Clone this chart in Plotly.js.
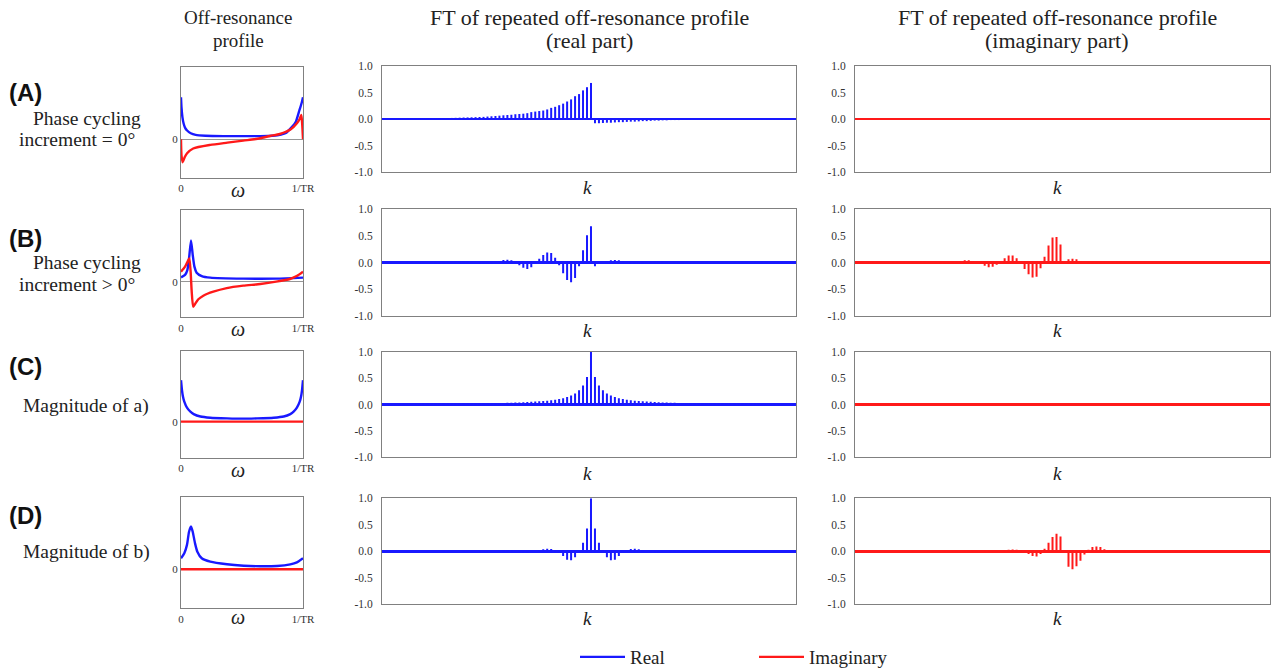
<!DOCTYPE html>
<html><head><meta charset="utf-8">
<script src="https://cdn.plot.ly/plotly-3.0.1.min.js"></script>
<style>html,body{margin:0;padding:0;background:#fff}#chart{width:1276px;height:669px}</style>
</head><body><div id="chart"></div>
<script>
// ---------- stem index k (FFT-shifted, 104 samples) ----------
const kIndex = Array.from({length: 104}, (_, i) => i - 52);

// ---------- FT stem values, k = -52 ... 51 (13 per line) ----------
const realA = [
 0.008,0.008,0.008,0.009,0.009,0.009,0.010,0.010,0.011,0.011,0.012,0.013,0.014,
 0.015,0.016,0.017,0.018,0.020,0.022,0.025,0.028,0.030,0.032,0.035,0.038,0.040,
 0.046,0.051,0.057,0.063,0.070,0.075,0.080,0.090,0.095,0.100,0.110,0.130,0.140,
 0.150,0.160,0.180,0.210,0.230,0.260,0.290,0.330,0.370,0.430,0.470,0.540,0.600,
 0.680,-0.080,-0.080,-0.075,-0.070,-0.070,-0.065,-0.060,-0.060,-0.055,-0.050,-0.050,-0.045,
 -0.040,-0.040,-0.035,-0.030,-0.030,-0.025,-0.025,-0.020,-0.020,-0.020,-0.015,-0.015,-0.015,
 -0.012,-0.012,-0.012,-0.011,-0.011,-0.011,-0.010,-0.010,-0.010,-0.010,-0.009,-0.009,-0.009,
 -0.009,-0.008,-0.008,-0.008,-0.008,-0.008,-0.007,-0.007,-0.007,-0.007,-0.007,-0.006,-0.006
];
const imagA = [
 0,0,0,0,0,0,0,0,0,0,0,0,0,
 0,0,0,0,0,0,0,0,0,0,0,0,0,
 0,0,0,0,0,0,0,0,0,0,0,0,0,
 0,0,0,0,0,0,0,0,0,0,0,0,0,
 0,0,0,0,0,0,0,0,0,0,0,0,0,
 0,0,0,0,0,0,0,0,0,0,0,0,0,
 0,0,0,0,0,0,0,0,0,0,0,0,0,
 0,0,0,0,0,0,0,0,0,0,0,0,0
];
const realB = [
 0.000,-0.008,-0.010,-0.010,-0.008,0.000,0.008,0.010,0.010,0.010,0.005,0.000,-0.008,
 -0.012,-0.015,-0.012,-0.005,0.005,0.012,0.018,0.020,0.018,0.010,0.000,-0.015,-0.025,
 -0.030,-0.025,-0.010,0.020,0.045,0.050,0.040,0.010,-0.050,-0.100,-0.120,-0.090,-0.020,
 0.070,0.140,0.190,0.180,0.090,-0.050,-0.200,-0.330,-0.370,-0.290,-0.070,0.230,0.510,
 0.680,-0.070,-0.030,0.000,0.025,0.040,0.045,0.040,0.020,0.000,-0.015,-0.025,-0.030,
 -0.020,-0.010,0.005,0.012,0.015,0.015,0.010,0.000,-0.010,-0.012,-0.012,-0.008,0.000,
 0.008,0.010,0.010,0.006,0.000,-0.005,-0.008,-0.008,-0.005,0.000,0.005,0.008,0.008,
 0.005,0.000,-0.005,-0.007,-0.007,-0.004,0.000,0.004,0.006,0.006,0.004,0.000,-0.004
];
const imagB = [
 -0.005,-0.004,0.000,0.005,0.008,0.008,0.008,0.005,0.000,-0.006,-0.009,-0.010,-0.008,
 -0.003,0.004,0.010,0.012,0.012,0.008,0.000,-0.010,-0.017,-0.020,-0.017,-0.008,0.008,
 0.025,0.040,0.040,0.030,0.000,-0.030,-0.060,-0.090,-0.080,-0.040,0.030,0.080,0.130,
 0.130,0.080,0.000,-0.120,-0.220,-0.280,-0.270,-0.110,0.110,0.320,0.470,0.480,0.340,
 0.000,0.060,0.070,0.060,0.030,0.000,-0.020,-0.025,-0.025,-0.020,-0.010,0.000,0.010,
 0.015,0.015,0.010,0.000,-0.008,-0.010,-0.010,-0.006,0.000,0.006,0.008,0.008,0.005,
 0.000,-0.005,-0.006,-0.006,-0.004,0.000,0.004,0.005,0.005,0.003,0.000,-0.003,-0.004,
 -0.004,-0.003,0.000,0.003,0.004,0.004,0.003,0.000,-0.003,-0.003,-0.003,-0.002,0.000
];
const realC = [
 0.010,0.010,0.010,0.010,0.010,0.010,0.011,0.011,0.011,0.011,0.012,0.012,0.012,
 0.013,0.013,0.014,0.014,0.015,0.015,0.016,0.016,0.017,0.018,0.019,0.020,0.021,
 0.022,0.024,0.026,0.028,0.030,0.032,0.034,0.037,0.040,0.043,0.046,0.050,0.055,
 0.060,0.065,0.072,0.080,0.090,0.105,0.120,0.140,0.170,0.210,0.270,0.360,0.520,
 1.000,0.520,0.360,0.270,0.210,0.170,0.140,0.120,0.105,0.090,0.080,0.072,0.065,
 0.060,0.055,0.050,0.046,0.043,0.040,0.037,0.034,0.032,0.030,0.028,0.026,0.024,
 0.022,0.021,0.020,0.019,0.018,0.017,0.016,0.016,0.015,0.015,0.014,0.014,0.013,
 0.013,0.012,0.012,0.012,0.011,0.011,0.011,0.011,0.010,0.010,0.010,0.010,0.010
];
const imagC = [
 0,0,0,0,0,0,0,0,0,0,0,0,0,
 0,0,0,0,0,0,0,0,0,0,0,0,0,
 0,0,0,0,0,0,0,0,0,0,0,0,0,
 0,0,0,0,0,0,0,0,0,0,0,0,0,
 0,0,0,0,0,0,0,0,0,0,0,0,0,
 0,0,0,0,0,0,0,0,0,0,0,0,0,
 0,0,0,0,0,0,0,0,0,0,0,0,0,
 0,0,0,0,0,0,0,0,0,0,0,0,0
];
const realD = [
 0.001,0.002,0.002,0.001,0.000,-0.002,-0.003,-0.002,0.000,0.001,0.003,0.004,0.002,
 0.000,-0.002,-0.004,-0.005,-0.003,0.000,0.003,0.006,0.007,0.004,0.000,-0.004,-0.008,
 -0.010,-0.006,0.000,0.006,0.012,0.015,0.010,0.000,-0.010,-0.020,-0.025,-0.015,0.000,
 0.020,0.040,0.050,0.045,0.020,-0.030,-0.090,-0.160,-0.170,-0.110,-0.030,0.160,0.430,
 1.000,0.430,0.160,-0.030,-0.110,-0.170,-0.160,-0.090,-0.030,0.020,0.045,0.050,0.040,
 0.020,0.000,-0.015,-0.025,-0.020,-0.010,0.000,0.010,0.015,0.012,0.006,0.000,-0.006,
 -0.010,-0.008,-0.004,0.000,0.004,0.007,0.006,0.003,0.000,-0.003,-0.005,-0.004,-0.002,
 0.000,0.002,0.004,0.003,0.001,0.000,-0.002,-0.003,-0.002,0.000,0.001,0.002,0.002
];
const imagD = [
 0.001,0.000,-0.001,-0.002,-0.002,-0.001,0.000,0.001,0.002,0.002,0.002,0.000,-0.002,
 -0.003,-0.003,-0.002,0.000,0.002,0.004,0.004,0.003,0.000,-0.004,-0.006,-0.006,-0.004,
 0.000,0.006,0.010,0.010,0.006,0.000,-0.010,-0.015,-0.015,-0.010,0.000,0.015,0.030,
 0.035,0.030,0.010,-0.020,-0.050,-0.090,-0.100,-0.050,0.050,0.160,0.270,0.330,0.280,
 0.000,-0.290,-0.340,-0.280,-0.180,-0.060,0.030,0.080,0.090,0.080,0.040,0.010,-0.010,
 -0.025,-0.030,-0.025,-0.015,0.000,0.010,0.015,0.015,0.010,0.000,-0.006,-0.010,-0.010,
 -0.006,0.000,0.005,0.007,0.006,0.003,0.000,-0.003,-0.005,-0.005,-0.003,0.000,0.003,
 0.004,0.003,0.001,0.000,-0.002,-0.003,-0.003,-0.002,0.000,0.002,0.002,0.002,0.001
];

// ---------- off-resonance profiles (omega in units of 1/TR, amplitude a.u.) ----------
const omegaA_re = [0,0.004,0.012,0.022,0.035,0.05,0.08,0.12,0.2,0.35,0.5,0.65,0.75,0.82,0.86,0.91,0.94,0.97,0.99,1.0];
const profA_re  = [1.05,0.8,0.55,0.39,0.28,0.22,0.15,0.11,0.09,0.08,0.08,0.08,0.09,0.12,0.16,0.31,0.43,0.72,0.92,1.05];
const omegaA_im = [0,0.004,0.014,0.03,0.05,0.1,0.24,0.38,0.51,0.6,0.65,0.73,0.81,0.9,0.95,0.975,0.986,0.993,1.0];
const profA_im  = [0,-0.4,-0.575,-0.45,-0.35,-0.23,-0.14,-0.083,-0.033,0,0.025,0.083,0.133,0.25,0.4,0.52,0.61,0.4,0];

const omegaB_re = [0,0.033,0.052,0.066,0.082,0.096,0.11,0.128,0.17,0.24,0.51,0.78,1.0];
const profB_re  = [0.108,0.17,0.29,0.58,1.03,0.67,0.375,0.225,0.14,0.1,0.075,0.075,0.1];
const omegaB_im = [0,0.033,0.06,0.068,0.079,0.087,0.1,0.115,0.142,0.183,0.265,0.375,0.51,0.65,0.78,0.893,0.948,1.0];
const profB_im  = [0.25,0.375,0.54,0.58,0.25,-0.21,-0.625,-0.56,-0.44,-0.35,-0.25,-0.16,-0.1,-0.058,0,0.067,0.14,0.25];

const omegaC = [0,0.008,0.016,0.027,0.049,0.077,0.104,0.159,0.24,0.377,0.5,0.623,0.76,0.842,0.896,0.923,0.95,0.973,0.984,0.992,1.0];
const profC_re = [1.04,0.79,0.63,0.5,0.35,0.25,0.19,0.13,0.1,0.083,0.075,0.083,0.1,0.13,0.19,0.25,0.35,0.5,0.63,0.79,1.04];
const omegaC_im = [0,1];
const profC_im = [0,0];

const omegaD = [0,0.027,0.049,0.066,0.082,0.096,0.115,0.134,0.17,0.24,0.377,0.514,0.65,0.787,0.896,0.95,1.0];
const profD_re = [0.275,0.4,0.61,0.94,1.07,0.94,0.65,0.44,0.275,0.19,0.125,0.09,0.075,0.083,0.125,0.175,0.275];
const omegaD_im = [0,1];
const profD_im = [0,0];

const profileTicks = ['0','1/TR'];
const stemTickVals = [-1,-0.5,0,0.5,1];
const stemTickText = ['-1.0','-0.5','0.0','0.5','1.0'];

// ---------- styling / layout helpers ----------
const W = 1276, H = 669;
const BLUE = 'rgb(25,25,255)', RED = 'rgb(255,25,25)';
const SERIF = 'Liberation Serif, DejaVu Serif, serif';
const FRAME = 'rgb(128,128,128)';
const px = v => v / W;
const py = v => 1 - v / H;

const colX = { prof: [181, 303], real: [382, 796], imag: [855, 1270] };
const profRows = [[67.3, 177.7], [210, 317.3], [351, 458], [497.3, 608.3]];
const stemRows = [[66, 172], [209.3, 315.7], [351.7, 457.3], [498.3, 604.3]];
const profRanges = [[-0.96, 1.8], [-0.89, 1.79], [-0.91, 1.77], [-0.975, 1.8]];

const profData = [
  {ore: omegaA_re, re: profA_re, oim: omegaA_im, im: profA_im},
  {ore: omegaB_re, re: profB_re, oim: omegaB_im, im: profB_im},
  {ore: omegaC, re: profC_re, oim: omegaC_im, im: profC_im},
  {ore: omegaD, re: profD_re, oim: omegaD_im, im: profD_im}
];
const stemData = [[realA, imagA], [realB, imagB], [realC, imagC], [realD, imagD]];

function stems(vals) {
  const x = [], y = [];
  vals.forEach((v, i) => { x.push(kIndex[i], kIndex[i], null); y.push(0, v, null); });
  return {x, y};
}

const traces = [];
const layout = {
  width: W, height: H,
  margin: {l: 0, r: 0, t: 0, b: 0, autoexpand: false},
  paper_bgcolor: '#fff', plot_bgcolor: '#fff',
  font: {family: SERIF, color: '#222'},
  showlegend: true,
  legend: {
    orientation: 'h', x: px(575), xanchor: 'left', y: py(657), yanchor: 'middle',
    font: {family: SERIF, size: 19, color: '#222'},
    itemwidth: 45, entrywidth: 119, entrywidthmode: 'pixels', traceorder: 'normal',
    bgcolor: 'rgba(0,0,0,0)'
  },
  annotations: [], shapes: []
};

function frameAxis(domain) {
  return {domain, showline: true, mirror: true, linecolor: FRAME, linewidth: 1,
          showgrid: false, zeroline: false, ticks: '', fixedrange: true, automargin: false};
}

for (let r = 0; r < 4; r++) {
  const ip = 3 * r + 1, ir = 3 * r + 2, ii = 3 * r + 3;
  const sfx = n => (n === 1 ? '' : String(n));
  // profile subplot
  const pd = profData[r];
  traces.push({type: 'scatter', mode: 'lines', x: pd.ore, y: pd.re, xaxis: 'x' + sfx(ip), yaxis: 'y' + sfx(ip),
    line: {color: BLUE, width: 2.4, shape: 'spline', smoothing: 0.6}, name: 'Real', showlegend: r === 0, hoverinfo: 'skip'});
  traces.push({type: 'scatter', mode: 'lines', x: pd.oim, y: pd.im, xaxis: 'x' + sfx(ip), yaxis: 'y' + sfx(ip),
    line: {color: RED, width: 2.4, shape: 'spline', smoothing: 0.6}, name: 'Imaginary', showlegend: r === 0, hoverinfo: 'skip'});
  layout['xaxis' + sfx(ip)] = Object.assign(frameAxis([px(colX.prof[0]), px(colX.prof[1])]), {
    anchor: 'y' + sfx(ip), range: [0, 1], tickmode: 'array', tickvals: [0, 1], ticktext: profileTicks,
    tickfont: {family: SERIF, size: 11, color: '#333'}
  });
  layout['yaxis' + sfx(ip)] = Object.assign(frameAxis([py(profRows[r][1]), py(profRows[r][0])]), {
    anchor: 'x' + sfx(ip), range: profRanges[r], tickmode: 'array', tickvals: [0], ticktext: ['0'],
    tickfont: {family: SERIF, size: 11, color: '#333'},
    zeroline: true, zerolinecolor: 'rgb(150,150,150)', zerolinewidth: 1.6
  });
  // stem subplots
  [[ir, stemData[r][0], BLUE, colX.real], [ii, stemData[r][1], RED, colX.imag]].forEach(([n, vals, col, cx]) => {
    const s = stems(vals);
    traces.push({type: 'scatter', mode: 'lines', x: s.x, y: s.y, xaxis: 'x' + sfx(n), yaxis: 'y' + sfx(n),
      line: {color: col, width: 2}, showlegend: false, hoverinfo: 'skip', connectgaps: false});
    layout['xaxis' + sfx(n)] = Object.assign(frameAxis([px(cx[0]), px(cx[1])]), {
      anchor: 'y' + sfx(n), range: [-52.5, 51.5], showticklabels: false
    });
    layout['yaxis' + sfx(n)] = Object.assign(frameAxis([py(stemRows[r][1]), py(stemRows[r][0])]), {
      anchor: 'x' + sfx(n), range: [-1, 1], tickmode: 'array', tickvals: stemTickVals, ticktext: stemTickText,
      tickfont: {family: SERIF, size: 11.5, color: '#333'}, ticklabelstandoff: 6,
      zeroline: true, zerolinecolor: col, zerolinewidth: 2.6
    });
  });
}

function ann(text, x, y, opt) {
  layout.annotations.push(Object.assign({
    text, x: px(x), y: py(y), xref: 'paper', yref: 'paper', showarrow: false,
    xanchor: 'center', yanchor: 'middle', font: {family: SERIF, size: 19.5, color: '#222'}
  }, opt || {}));
}

// column headers
const HEAD_SMALL = {font: {family: SERIF, size: 19, color: '#222'}};
const HEAD_BIG = {font: {family: SERIF, size: 22, color: '#222'}};
ann('Off-resonance', 238, 18, HEAD_SMALL); ann('profile', 238, 40, HEAD_SMALL);
ann('FT of repeated off-resonance profile', 589, 18, HEAD_BIG); ann('(real part)', 589, 40, HEAD_BIG);
ann('FT of repeated off-resonance profile', 1057, 18, HEAD_BIG); ann('(imaginary part)', 1057, 40, HEAD_BIG);

// row labels
const rowLetters = ['(A)', '(B)', '(C)', '(D)'];
const rowLetterY = [93, 238, 366, 515];
rowLetters.forEach((t, i) => ann('<b>' + t + '</b>', 7, rowLetterY[i],
  {xanchor: 'left', font: {family: 'Liberation Sans, Arial, sans-serif', size: 24, color: '#111'}}));
ann('Phase cycling', 87, 118); ann('increment = 0°', 77, 140);
ann('Phase cycling', 87, 262); ann('increment &gt; 0°', 77, 284);
ann('Magnitude of a)', 86, 406);
ann('Magnitude of b)', 86, 552);

// axis variable labels
const omegaY = [190, 329, 470, 617];
const kY = [187, 330, 473, 618];
for (let r = 0; r < 4; r++) {
  ann('<i>ω</i>', 238, omegaY[r], {font: {family: SERIF, size: 20, color: '#222'}});
  ann('<i>k</i>', 587, kY[r], {font: {family: SERIF, size: 19, color: '#222'}});
  ann('<i>k</i>', 1057, kY[r], {font: {family: SERIF, size: 19, color: '#222'}});
}

Plotly.newPlot('chart', traces, layout, {staticPlot: true, displayModeBar: false});
</script></body></html>
